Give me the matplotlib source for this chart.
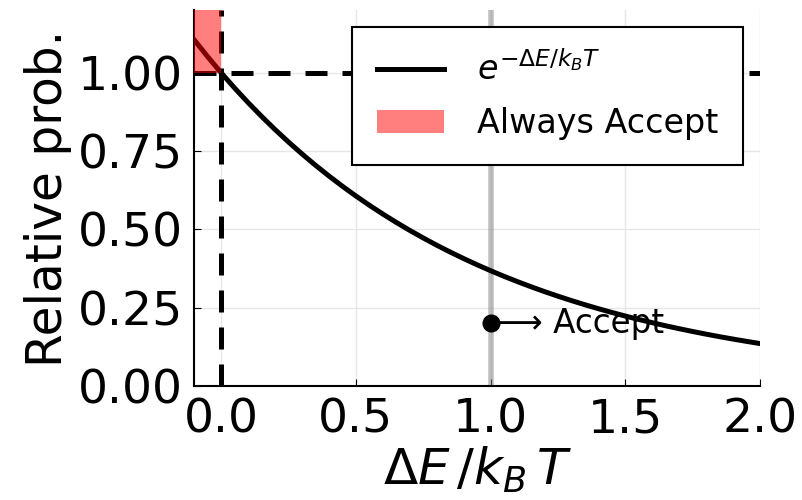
import numpy as np
import matplotlib
matplotlib.use("Agg")
import matplotlib.pyplot as plt

# curve samples e^{-x}, read at steps of 0.05 from -0.1 to 2.0
x_vals = np.round(np.arange(-0.1, 2.001, 0.05), 2)
y_vals = [1.1052, 1.0513, 1.0, 0.9512, 0.9048, 0.8607, 0.8187, 0.7788, 0.7408,
          0.7047, 0.6703, 0.6376, 0.6065, 0.5769, 0.5488, 0.5220, 0.4966, 0.4724,
          0.4493, 0.4274, 0.4066, 0.3867, 0.3679, 0.3499, 0.3329, 0.3166, 0.3012,
          0.2865, 0.2725, 0.2592, 0.2466, 0.2346, 0.2231, 0.2122, 0.2019, 0.1920,
          0.1827, 0.1738, 0.1653, 0.1572, 0.1496, 0.1423, 0.1353]

accept_x = 1.0
accept_y = 0.2
x_ticks = [0.0, 0.5, 1.0, 1.5, 2.0]
y_ticks = [0.0, 0.25, 0.5, 0.75, 1.0]

plt.rcParams['font.family'] = ['DejaVu Sans']
plt.rcParams['mathtext.fontset'] = 'dejavusans'

fig = plt.figure(figsize=(8.02, 5.0), dpi=100)
ax = fig.add_axes([0.242, 0.228, 0.706, 0.752])

ax.grid(True, color='#e6e6e6', lw=1)
ax.set_axisbelow(True)

ax.axvline(accept_x, color='gray', alpha=0.5, lw=4, zorder=1)
ax.plot(x_vals, y_vals, color='black', lw=3.6, label=r'$e^{-\Delta E/k_BT}$', zorder=3)
ax.axhline(1.0, color='black', lw=3.6, dashes=(4.4, 3), zorder=3)
ax.axvline(0.0, color='black', lw=3.6, dashes=(4.4, 3), zorder=3)
ax.fill_between([-0.1, 0.0], 1.0, 1.2, color='red', alpha=0.5, lw=0,
                label='Always Accept', zorder=4)

ax.plot([accept_x], [accept_y], 'o', color='black', ms=12, zorder=5)
ax.text(accept_x + 0.02, accept_y, '⟶ Accept', fontsize=23.5, va='center', ha='left', zorder=5)

ax.set_xlim(-0.1, 2.0)
ax.set_ylim(0, 1.2)
ax.set_xticks(x_ticks)
ax.set_yticks(y_ticks)
ax.set_xticklabels(['0.0', '0.5', '1.0', '1.5', '2.0'])
ax.set_yticklabels(['0.00', '0.25', '0.50', '0.75', '1.00'])
ax.tick_params(direction='in', length=5, labelsize=34, pad=8)
for s in ['top', 'right']:
    ax.spines[s].set_visible(False)
for s in ['left', 'bottom']:
    ax.spines[s].set_linewidth(1.5)

ax.set_xlabel(r'$\Delta E\,/k_B\,T$', fontsize=36, labelpad=2)
ax.set_ylabel('Relative prob.', fontsize=35, labelpad=4)

leg = ax.legend(loc='upper right', bbox_to_anchor=(0.97, 0.955), borderaxespad=0,
                fontsize=24, frameon=True, fancybox=False, edgecolor='black',
                framealpha=1, handlelength=2.0, handletextpad=1.0,
                borderpad=0.75, labelspacing=0.6)
leg.get_frame().set_linewidth(1.5)

fig.savefig('out.png', dpi=100)
